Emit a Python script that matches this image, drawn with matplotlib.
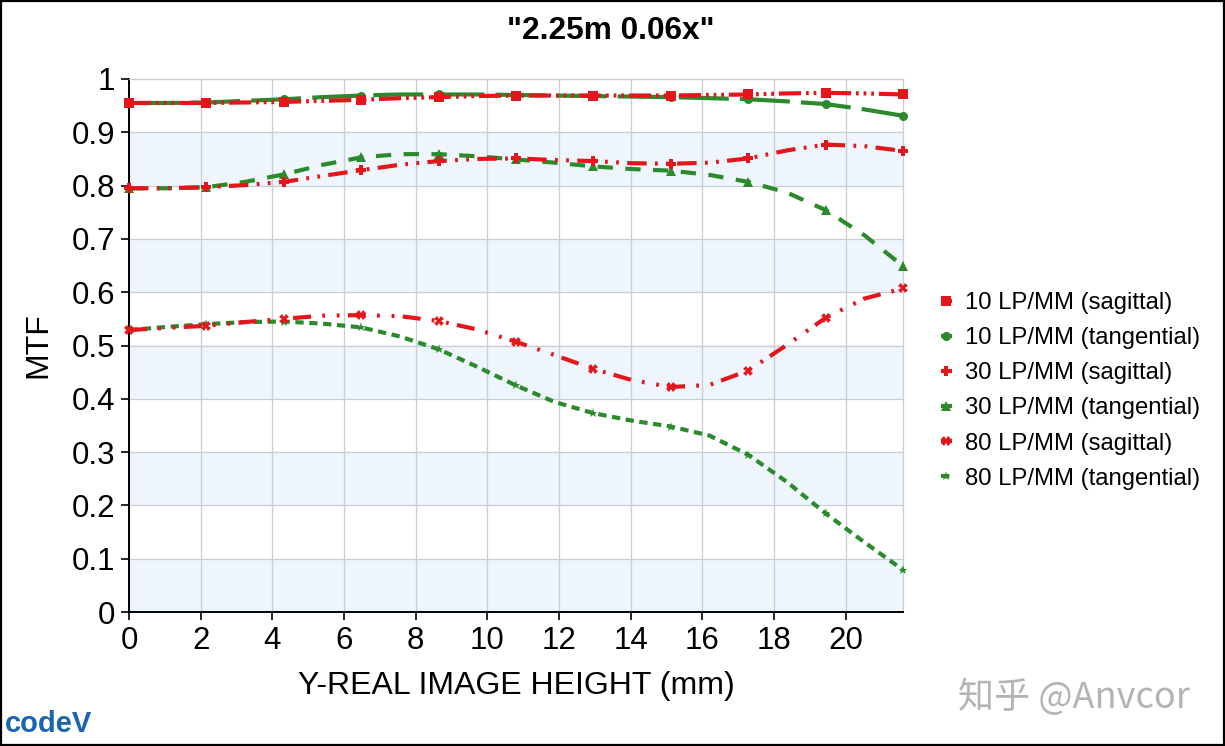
import matplotlib
matplotlib.use("Agg")
import matplotlib.pyplot as plt
from matplotlib.patches import Rectangle

plt.rcParams['font.family'] = ['Liberation Sans', 'DejaVu Sans']
plt.rcParams['lines.scale_dashes'] = False

# ---------------- data (markers on every 2nd point) ----------------
field_mm = [0.0, 1.08, 2.16, 3.24, 4.32, 5.4, 6.48, 7.56, 8.64, 9.72, 10.8,
            11.88, 12.96, 14.04, 15.12, 16.2, 17.28, 18.36, 19.44, 20.52, 21.6]

mtf10_sag = [0.955, 0.955, 0.955, 0.956, 0.957, 0.959, 0.961, 0.964, 0.966, 0.968, 0.969,
             0.969, 0.969, 0.969, 0.969, 0.970, 0.971, 0.973, 0.974, 0.973, 0.971]
mtf10_tan = [0.955, 0.955, 0.956, 0.959, 0.962, 0.966, 0.969, 0.971, 0.971, 0.971, 0.970,
             0.969, 0.968, 0.967, 0.966, 0.964, 0.962, 0.958, 0.953, 0.943, 0.931]
mtf30_sag = [0.795, 0.795, 0.797, 0.801, 0.807, 0.818, 0.829, 0.839, 0.846, 0.850, 0.851,
             0.848, 0.846, 0.842, 0.841, 0.843, 0.851, 0.866, 0.877, 0.874, 0.865]
mtf30_tan = [0.795, 0.795, 0.797, 0.807, 0.821, 0.839, 0.853, 0.859, 0.859, 0.855, 0.849,
             0.843, 0.836, 0.831, 0.828, 0.820, 0.807, 0.787, 0.754, 0.707, 0.649]
mtf80_sag = [0.529, 0.533, 0.537, 0.544, 0.550, 0.556, 0.557, 0.555, 0.546, 0.530, 0.507,
             0.482, 0.456, 0.435, 0.422, 0.426, 0.453, 0.501, 0.552, 0.588, 0.607]
mtf80_tan = [0.529, 0.535, 0.540, 0.544, 0.545, 0.541, 0.534, 0.517, 0.493, 0.460, 0.425,
             0.394, 0.373, 0.359, 0.348, 0.331, 0.295, 0.244, 0.185, 0.131, 0.079]

series_labels = ["10 LP/MM (sagittal)", "10 LP/MM (tangential)",
                 "30 LP/MM (sagittal)", "30 LP/MM (tangential)",
                 "80 LP/MM (sagittal)", "80 LP/MM (tangential)"]

x_ticks = [0, 2, 4, 6, 8, 10, 12, 14, 16, 18, 20]
y_ticks = [0, 0.1, 0.2, 0.3, 0.4, 0.5, 0.6, 0.7, 0.8, 0.9, 1.0]
y_tick_labels = ["0", "0.1", "0.2", "0.3", "0.4", "0.5", "0.6", "0.7", "0.8", "0.9", "1"]

title = '"2.25m 0.06x"'
x_label = "Y-REAL IMAGE HEIGHT (mm)"
y_label = "MTF"

# ---------------- figure ----------------
W, H = 1225, 746
fig = plt.figure(figsize=(W / 100, H / 100), dpi=100)
fig.patch.set_facecolor('white')
ax = fig.add_axes([129 / W, 1 - 612 / H, (903 - 129) / W, (612 - 79) / H])

RED = '#e4161c'
GREEN = '#2a8a2c'

# alternating bands
for lo in [0.0, 0.2, 0.4, 0.6, 0.8]:
    ax.axhspan(lo, lo + 0.1, color='#eef5fc', zorder=0, lw=0)

ax.set_xlim(0, 21.6)
ax.set_ylim(0, 1)
ax.set_xticks(x_ticks)
ax.set_yticks(y_ticks)
ax.set_yticklabels(y_tick_labels)
ax.grid(True, color='#c9cdd5', lw=0.9, zorder=1)
ax.set_axisbelow(True)

for side in ['top', 'right']:
    ax.spines[side].set_color('#c9cdd5')
    ax.spines[side].set_linewidth(0.9)
for side in ['left', 'bottom']:
    ax.spines[side].set_color('black')
    ax.spines[side].set_linewidth(1.4)

ax.tick_params(axis='both', which='major', length=6, width=1.2, direction='out',
               labelsize=22.5, pad=4, color='black')

lw = 3.0
ms = 6.5
styles = [
    dict(y=mtf10_sag, c=RED, marker='s', dashes=(16, 3.5, 2, 3.5, 2, 3.5, 2, 3.5), z=6),
    dict(y=mtf10_tan, c=GREEN, marker='o', dashes=(36, 8), z=5),
    dict(y=mtf30_sag, c=RED, marker='P', dashes=(14, 6, 2, 6, 2, 6), z=6),
    dict(y=mtf30_tan, c=GREEN, marker='^', dashes=(11, 9), z=5),
    dict(y=mtf80_sag, c=RED, marker='X', dashes=(13, 8, 2, 8.5, 2, 6), z=6),
    dict(y=mtf80_tan, c=GREEN, marker='*', dashes=(6, 4), z=5),
]
handles = []
for st, lab in zip(styles, series_labels):
    ln, = ax.plot(field_mm, st['y'], color=st['c'], lw=lw, marker=st['marker'],
                  markersize=ms, markeredgewidth=0, markevery=2, dashes=st['dashes'],
                  dash_capstyle='butt', zorder=st['z'], label=lab, clip_on=False)
    handles.append(ln)

leg = fig.legend(handles=handles, labels=series_labels, loc='upper left',
                 bbox_to_anchor=(941 / W, 1 - 292 / H), frameon=False,
                 fontsize=17.2, handlelength=0.45, handletextpad=0.55,
                 labelspacing=0.55, borderaxespad=0, borderpad=0)

fig.text(611 / W, 1 - 31 / H, title, ha='center', va='center', fontsize=22.8,
         fontweight='bold')
fig.text(516 / W, 1 - 686 / H, x_label, ha='center', va='center', fontsize=23)
fig.text(38 / W, 1 - 345 / H, y_label, ha='center', va='center', fontsize=23,
         rotation=90)

# logo and watermark
fig.text(5 / W, 1 - 724 / H, "codeV", ha='left', va='center', fontsize=21,
         fontweight='bold', color='#1a64b0')
fig.text(958 / W, 1 - 697 / H, "知乎 @Anvcor", ha='left', va='center', fontsize=26,
         color='#b4b4b4', family=['Noto Sans CJK SC', 'DejaVu Sans'])

# figure border
fig.patches.append(Rectangle((0.0008, 0.0013), 0.9984, 0.9974, transform=fig.transFigure,
                             fill=False, edgecolor='black', lw=1.6, zorder=10))

fig.savefig("out.png", dpi=100, facecolor='white')
